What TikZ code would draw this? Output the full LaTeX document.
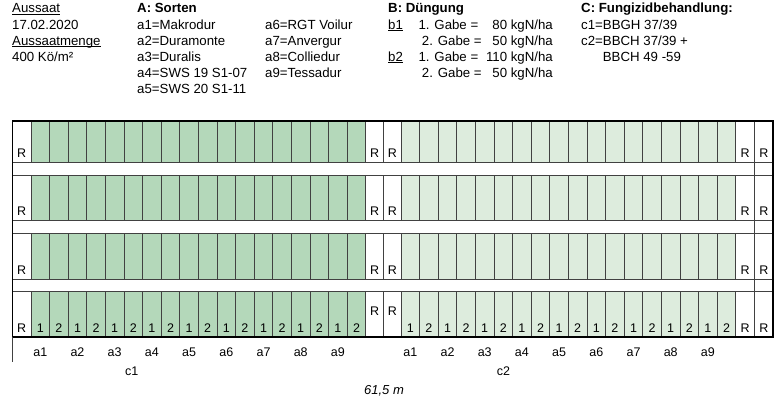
\documentclass[tikz,border=0pt]{standalone}
\usepackage{fontspec}
\setmainfont{Liberation Sans}
\definecolor{dkgreen}{RGB}{180,216,186}
\definecolor{ltgreen}{RGB}{221,236,221}
\definecolor{gridc}{RGB}{65,65,65}
\begin{document}
\begin{tikzpicture}[x=1pt,y=-1pt,
  hdr/.style={anchor=base west,inner sep=0pt,font=\fontsize{13.25}{15}\selectfont},
  hdrr/.style={anchor=base east,inner sep=0pt,font=\fontsize{13.25}{15}\selectfont},
  hdrb/.style={hdr,font=\fontsize{13.25}{15}\selectfont\bfseries},
  cell/.style={anchor=base,inner sep=0pt,font=\fontsize{12.5}{14}\selectfont},
  grid/.style={draw=gridc,line width=0.95pt},
  frame/.style={draw=black,line width=1.7pt},
  uline/.style={draw=black,line width=0.8pt}]
\useasboundingbox (0,0) rectangle (780,398);

% ---------- header ----------
\node[hdr] (aus) at (12,13) {Aussaat};
\node[hdr] (dat) at (12,29.1) {17.02.2020};
\node[hdr] (menge) at (12,45.2) {Aussaatmenge};
\node[hdr] (kö) at (12,61.3) {400 Kö/m²};
\draw[uline] ([yshift=-1.6pt]aus.base west) -- ([yshift=-1.6pt]aus.base east);
\draw[uline] ([yshift=-1.6pt]menge.base west) -- ([yshift=-1.6pt]menge.base east);

\node[hdrb] (A) at (137,13) {A: Sorten};
\node[hdr] (a1t) at (137,29.1) {a1=Makrodur};
\node[hdr] (a2t) at (137,45.2) {a2=Duramonte};
\node[hdr] (a3t) at (137,61.3) {a3=Duralis};
\node[hdr] (a4t) at (137,77.4) {a4=SWS 19 S1-07};
\node[hdr] (a5t) at (137,93.5) {a5=SWS 20 S1-11};
\node[hdr] (a6t) at (265,29.1) {a6=RGT Voilur};
\node[hdr] (a7t) at (265,45.2) {a7=Anvergur};
\node[hdr] (a8t) at (265,61.3) {a8=Colliedur};
\node[hdr] (a9t) at (265,77.4) {a9=Tessadur};

\node[hdrb] (B) at (388,13) {B: Düngung};
\node[hdr] (b1) at (388,29.1) {b1};
\node[hdr] (b2) at (388,61.3) {b2};
\draw[uline] ([yshift=-1.6pt]b1.base west) -- ([yshift=-1.6pt]b1.base east);
\draw[uline] ([yshift=-1.6pt]b2.base west) -- ([yshift=-1.6pt]b2.base east);
\node[hdr] (g11) at (418.3,29.1) {1. Gabe =};
\node[hdr] (g12) at (421.7,45.2) {2. Gabe =};
\node[hdr] (g21) at (418.3,61.3) {1. Gabe =};
\node[hdr] (g22) at (421.7,77.4) {2. Gabe =};
\node[hdrr] (n11) at (553,29.1) {80 kgN/ha};
\node[hdrr] (n12) at (553,45.2) {50 kgN/ha};
\node[hdrr] (n21) at (553,61.3) {110 kgN/ha};
\node[hdrr] (n22) at (553,77.4) {50 kgN/ha};

\node[hdrb] (C) at (581,13) {C: Fungizidbehandlung:};
\node[hdr] (c1t) at (581,29.1) {c1=BBGH 37/39};
\node[hdr] (c2t) at (581,45.2) {c2=BBCH 37/39 +};
\node[hdr] (c2u) at (602.7,61.3) {BBCH 49 -59};

% ---------- plot rows ----------
\foreach \t/\b [count=\r] in {121/162, 175.5/220, 233/279, 291/337}{
  \foreach \i in {0,...,17}{
    \path[fill=dkgreen,grid] ({31+18.6*\i},\t) rectangle ({31+18.6*(\i+1)},\b);
    \path[fill=ltgreen,grid] ({401+18.6*\i},\t) rectangle ({401+18.6*(\i+1)},\b);
  }
  \path[grid] (12.5,\t) rectangle (31,\b);
  \path[grid] (365.8,\t) rectangle (383.5,\b);
  \path[grid] (383.5,\t) rectangle (401,\b);
  \path[grid] (735.8,\t) rectangle (754.5,\b);
  \path[grid] (754.5,\t) rectangle (773,\b);
  \node[cell] (RL\r) at (21.75,\b-4.5) {R};
  \node[cell] (RR1\r) at (745.2,\b-4.5) {R};
  \node[cell] (RR2\r) at (763.8,\b-4.5) {R};
}
\foreach \t/\b [count=\r] in {121/162, 175.5/220, 233/279}{
  \node[cell] (RM1\r) at (374.7,\b-4.5) {R};
  \node[cell] (RM2\r) at (392.3,\b-4.5) {R};
}
\node[cell] (RM14) at (374.7,316) {R};
\node[cell] (RM24) at (392.3,316) {R};
\foreach \i in {0,...,17}{
  \pgfmathtruncatemacro{\n}{mod(\i,2)+1}
  \node[cell] (nl\i) at ({31+18.6*\i+9.3},332.5) {\n};
  \node[cell] (nr\i) at ({401+18.6*\i+9.3},332.5) {\n};
}
% vertical line through gaps
\draw[grid] (754.5,121) -- (754.5,337);
% outer frame
\draw[frame] (12.5,121) rectangle (773,337);
\draw[grid] (12.5,337) -- (12.5,362);

% ---------- bottom labels ----------
\foreach \k in {1,...,9}{
  \node[cell] (la\k) at ({31+18.6*2*(\k-1)+9.3},356) {a\k};
  \node[cell] (ra\k) at ({401+18.6*2*(\k-1)+9.3},356) {a\k};
}
\node[cell] (c1) at (131.7,376) {c1};
\node[cell] (c2) at (503.5,376) {c2};
\node[cell,font=\fontsize{13}{15}\selectfont\itshape] (len) at (384,394.5) {61,5 m};
\end{tikzpicture}
\end{document}
